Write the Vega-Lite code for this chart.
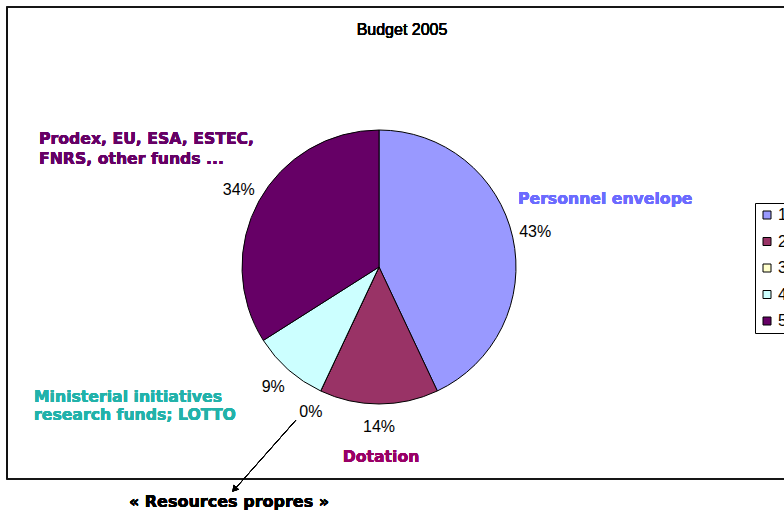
{
  "$schema": "https://vega.github.io/schema/vega-lite/v6.json",
  "width": 744,
  "height": 492,
  "autosize": {"type": "none"},
  "padding": {"left": 7, "top": 21, "right": 33, "bottom": 0},
  "background": "white",
  "config": {"view": {"stroke": null}},
  "data": {
    "values": [
      {"id": "1", "name": "Personnel envelope", "value": 43, "pct": "43%"},
      {"id": "2", "name": "Dotation", "value": 14, "pct": "14%"},
      {"id": "3", "name": "Resources propres", "value": 0, "pct": "0%"},
      {"id": "4", "name": "Ministerial initiatives research funds; LOTTO", "value": 9, "pct": "9%"},
      {"id": "5", "name": "Prodex, EU, ESA, ESTEC, FNRS, other funds", "value": 34, "pct": "34%"}
    ]
  },
  "layer": [
    {
      "mark": {"type": "rect", "fill": null, "filled": false, "stroke": "#111111", "strokeWidth": 1.2},
      "encoding": {
        "x": {"datum": 7, "type": "quantitative", "scale": {"domain": [7, 751], "nice": false, "zero": false}, "axis": null},
        "x2": {"datum": 790},
        "y": {"datum": 7, "type": "quantitative", "scale": {"domain": [21, 513], "nice": false, "zero": false, "reverse": true}, "axis": null},
        "y2": {"datum": 479}
      }
    },
    {
      "mark": {"type": "arc", "radius": 137, "stroke": "black", "strokeWidth": 1},
      "encoding": {
        "theta": {"field": "value", "type": "quantitative", "stack": true},
        "order": {"field": "id"},
        "color": {
          "field": "id",
          "type": "nominal",
          "scale": {"domain": ["1", "2", "3", "4", "5"], "range": ["#9999FF", "#993366", "#FFFFCC", "#CCFFFF", "#660066"]},
          "legend": {
            "orient": "none",
            "legendX": 748,
            "legendY": 182,
            "title": null,
            "direction": "vertical",
            "strokeColor": "black",
            "fillColor": "white",
            "padding": 4,
            "symbolType": "square",
            "symbolSize": 64,
            "symbolStrokeColor": "black",
            "symbolStrokeWidth": 1,
            "symbolOpacity": 1,
            "labelFont": "Liberation Sans",
            "labelFontSize": 16,
            "labelColor": "black",
            "labelOffset": 3,
            "rowPadding": 10.5
          }
        }
      }
    },
    {
      "mark": {"type": "text", "radius": 160, "font": "Liberation Sans", "fontSize": 16, "fontWeight": "normal", "color": "black"},
      "encoding": {
        "theta": {"field": "value", "type": "quantitative", "stack": true},
        "order": {"field": "id"},
        "text": {"field": "pct"}
      }
    },
    {
      "mark": {"type": "text", "font": "Liberation Sans", "fontSize": 16, "fontWeight": "normal", "color": "black", "align": "center", "baseline": "middle"},
      "encoding": {"x": {"datum": 402}, "y": {"datum": 30}, "text": {"value": "Budget 2005"}}
    },
    {
      "mark": {"type": "text", "font": "DejaVu Sans", "fontWeight": "bold", "fontSize": 15.7, "color": "#6B6BFF", "align": "left", "baseline": "middle"},
      "encoding": {"x": {"datum": 518}, "y": {"datum": 199}, "text": {"value": "Personnel envelope"}}
    },
    {
      "mark": {"type": "text", "font": "DejaVu Sans", "fontWeight": "bold", "fontSize": 15.7, "color": "#660066", "align": "left", "baseline": "middle"},
      "encoding": {"x": {"datum": 39}, "y": {"datum": 139}, "text": {"value": "Prodex, EU, ESA, ESTEC,"}}
    },
    {
      "mark": {"type": "text", "font": "DejaVu Sans", "fontWeight": "bold", "fontSize": 15.7, "color": "#660066", "align": "left", "baseline": "middle"},
      "encoding": {"x": {"datum": 39}, "y": {"datum": 159}, "text": {"value": "FNRS, other funds ..."}}
    },
    {
      "mark": {"type": "text", "font": "DejaVu Sans", "fontWeight": "bold", "fontSize": 15.7, "color": "#22B2AA", "align": "left", "baseline": "middle"},
      "encoding": {"x": {"datum": 34}, "y": {"datum": 397}, "text": {"value": "Ministerial initiatives"}}
    },
    {
      "mark": {"type": "text", "font": "DejaVu Sans", "fontWeight": "bold", "fontSize": 15.7, "color": "#22B2AA", "align": "left", "baseline": "middle"},
      "encoding": {"x": {"datum": 34}, "y": {"datum": 415}, "text": {"value": "research funds; LOTTO"}}
    },
    {
      "mark": {"type": "text", "font": "DejaVu Sans", "fontWeight": "bold", "fontSize": 15.7, "color": "#990066", "align": "center", "baseline": "middle"},
      "encoding": {"x": {"datum": 381}, "y": {"datum": 457}, "text": {"value": "Dotation"}}
    },
    {
      "mark": {"type": "text", "font": "DejaVu Sans", "fontWeight": "bold", "fontSize": 16, "color": "black", "align": "center", "baseline": "middle"},
      "encoding": {"x": {"datum": 229}, "y": {"datum": 502}, "text": {"value": "« Resources propres »"}}
    },
    {
      "mark": {"type": "rule", "color": "black", "strokeWidth": 1},
      "encoding": {"x": {"datum": 296}, "y": {"datum": 420}, "x2": {"datum": 234}, "y2": {"datum": 490}}
    },
    {
      "mark": {"type": "point", "shape": "triangle-up", "filled": true, "color": "black", "size": 50, "angle": 221.6, "opacity": 1},
      "encoding": {"x": {"datum": 234.3}, "y": {"datum": 489.4}}
    }
  ]
}
